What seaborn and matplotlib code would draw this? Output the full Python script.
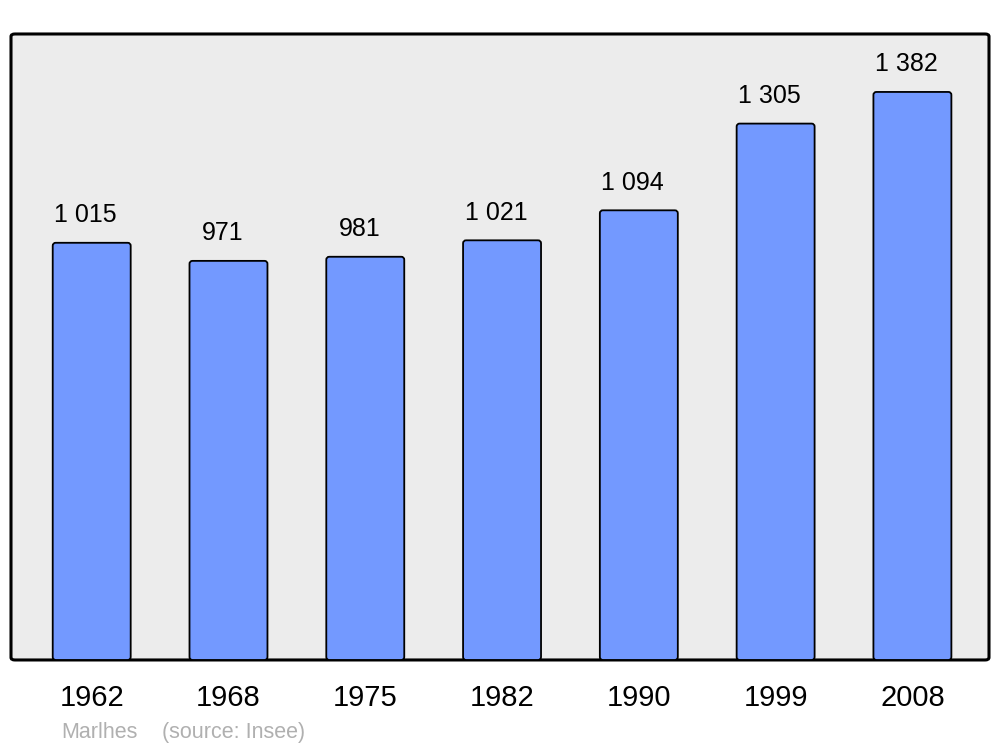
import matplotlib
matplotlib.use("Agg")
import matplotlib.pyplot as plt
from matplotlib.patches import FancyBboxPatch
import seaborn as sns
import pandas as pd

years = ["1962", "1968", "1975", "1982", "1990", "1999", "2008"]
population = [1015, 971, 981, 1021, 1094, 1305, 1382]
commune = "Marlhes"
source = "(source: Insee)"

df = pd.DataFrame({"year": years, "pop": population})

sns.set_theme(style="white")
plt.rcParams["font.family"] = ["Liberation Sans", "DejaVu Sans"]

fig = plt.figure(figsize=(10, 7.47), dpi=100)
ax = fig.add_axes([0.011, 0.1165, 0.978, 0.838])
ax.set_facecolor("none")

sns.barplot(data=df, x="year", y="pop", color="#7399ff", saturation=1,
            width=0.57, edgecolor="black", linewidth=1.3, ax=ax)

ax.set_xlim(-0.59, 6.56)
ax.set_ylim(0, 1523)

# swap the plain rectangles for slightly rounded ones
px_x = 978 / 7.15
px_y = 626 / 1523
for p in list(ax.patches):
    x0, y0 = p.get_x(), p.get_y()
    w, h = p.get_width(), p.get_height()
    rb = FancyBboxPatch((x0, y0), w, h,
                        boxstyle=f"round,pad=0,rounding_size={3 / px_x}",
                        mutation_aspect=px_x / px_y,
                        facecolor=p.get_facecolor(), edgecolor="black",
                        linewidth=1.3, zorder=2)
    p.remove()
    ax.add_patch(rb)

for i, v in enumerate(population):
    label = f"{v:,}".replace(",", " ")
    ax.annotate(label, (i, v), xytext=(-4.3, 11.3), textcoords="offset points",
                ha="center", va="bottom", fontsize=18, color="black")

# rounded background frame
frame = FancyBboxPatch((0, 0), 1, 1, transform=ax.transAxes,
                       boxstyle="round,pad=0,rounding_size=0.004",
                       facecolor="#ececec", edgecolor="black", linewidth=2.2,
                       zorder=0, clip_on=False)
ax.add_patch(frame)
for s in ax.spines.values():
    s.set_visible(False)

ax.set_xlabel("")
ax.set_ylabel("")
ax.set_yticks([])
ax.tick_params(axis="x", length=0, pad=17, labelsize=21, colors="black")

fig.text(0.061, 0.012, commune, fontsize=15.5, color="#b0b0b0", ha="left", va="baseline")
fig.text(0.162, 0.012, source, fontsize=15.5, color="#b0b0b0", ha="left", va="baseline")

fig.savefig("out.png", dpi=100, facecolor="white")
